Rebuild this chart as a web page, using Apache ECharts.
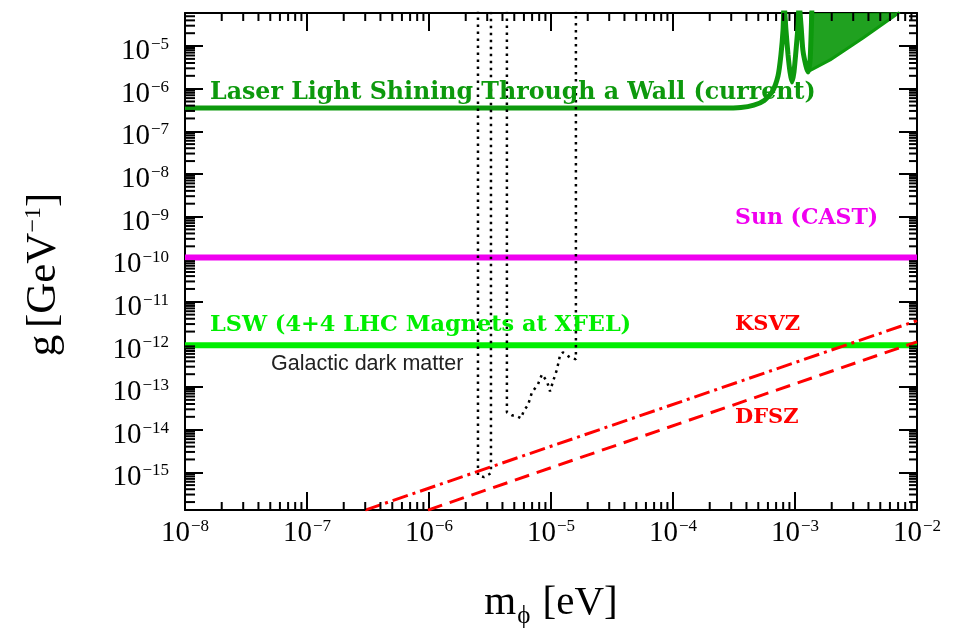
<!DOCTYPE html>
<html>
<head>
<meta charset="utf-8">
<script src="https://cdn.jsdelivr.net/npm/echarts@6/dist/echarts.min.js"></script>
<style>
  html, body { margin: 0; padding: 0; background: #fff; }
  #chart { width: 961px; height: 633px; }
</style>
</head>
<body>
<div id="chart"></div>
<script>
// x: mass m (eV), y: coupling g (GeV^-1), both drawn on log10 scales
const xTickExps = [-8, -7, -6, -5, -4, -3, -2];
const yTickExps = [-15, -14, -13, -12, -11, -10, -9, -8, -7, -6, -5];
const minorSteps = [2, 3, 4, 5, 6, 7, 8, 9];

// laser light shining through a wall (current), flat part + first resonances
const lswMass = [1e-8, 2.5e-4, 3.6e-4, 4.6e-4, 5.6e-4, 6.5e-4, 7.26e-4, 7.67e-4, 7.98e-4, 8.13e-4,
  8.43e-4, 8.77e-4, 9.10e-4, 9.44e-4, 9.81e-4, 1.02e-3, 1.06e-3, 1.08e-3, 1.12e-3,
  1.16e-3, 1.23e-3, 1.28e-3, 1.33e-3, 1.38e-3];
const lswG = [3.5e-7, 3.5e-7, 3.6e-7, 4.1e-7, 5.3e-7, 8.4e-7, 2.0e-6, 6.2e-6, 2.38e-5, 1e-4,
  2.38e-5, 6.2e-6, 2.47e-6, 1.44e-6, 2.47e-6, 8.1e-6, 3.12e-5, 1e-4, 3.12e-5,
  8.1e-6, 3.42e-6, 2.47e-6, 4.72e-6, 1e-4];
// dense oscillations: lower edge, filled up to the top of the plot
const lswBandMass = [1.31e-3, 1.94e-3, 3.61e-3, 7.2e-3];
const lswBandG = [2.6e-6, 4.72e-6, 1.55e-5, 6.2e-5];

const castMass = [1e-8, 1e-2];
const castG = [1.09e-10, 1.09e-10];

const xfelMass = [1e-8, 1e-2];
const xfelG = [9.5e-13, 9.5e-13];

const ksvzMass = [3.0e-7, 1e-2];
const ksvzG = [1.3e-16, 3.6e-12];
const dfszMass = [9.8e-7, 1e-2];
const dfszG = [1.3e-16, 1.15e-12];

// galactic dark matter searches (dotted contour)
const dmMass = [2.52e-6, 2.52e-6, 2.83e-6, 3.22e-6, 3.22e-6, 4.35e-6, 4.35e-6, 4.35e-6, 4.79e-6,
  5.26e-6, 5.68e-6, 6.01e-6, 6.47e-6, 6.98e-6, 7.82e-6, 8.43e-6, 9.27e-6, 9.82e-6,
  1.04e-5, 1.12e-5, 1.19e-5, 1.25e-5, 1.43e-5, 1.60e-5, 1.60e-5];
const dmG = [1e-4, 8.55e-16, 7.7e-16, 9.5e-16, 1e-4, 1e-4, 3.94e-14, 2.55e-14, 2.17e-14,
  2.06e-14, 1.85e-14, 2.85e-14, 3.73e-14, 7.5e-14, 1.16e-13, 1.98e-13, 1.36e-13, 7.9e-14,
  1.36e-13, 2.6e-13, 5.83e-13, 6.5e-13, 4.96e-13, 4.46e-13, 1e-4];

const yMin = -15.885, yMax = -4.225;
const serif = '"Liberation Serif", "DejaVu Serif", serif';
const labelFont = '"DejaVu Serif", serif';

function pts(ms, gs) {
  return ms.map((m, i) => [Math.log10(m), Math.log10(gs[i])]);
}

function expLabel(list) {
  return function (v) {
    const n = Math.round(v);
    if (Math.abs(v - n) > 1e-6 || list.indexOf(n) < 0) return '';
    return '{b|10}{s|\u2212' + Math.abs(n) + '}';
  };
}

const tickRich = {
  b: { fontFamily: serif, fontSize: 29, color: '#000', verticalAlign: 'bottom' },
  s: { fontFamily: serif, fontSize: 17, color: '#000', verticalAlign: 'bottom', padding: [0, 0, 13, 1] }
};

const minorX = [], minorY = [];
xTickExps.slice(0, -1).forEach(n => minorSteps.forEach(k => minorX.push([n + Math.log10(k), yMin])));
[-16].concat(yTickExps).forEach(n => minorSteps.forEach(k => {
  const v = n + Math.log10(k);
  if (v > yMin && v < yMax) minorY.push([-8, v]);
}));

function minorTicks(data, dir) {
  return {
    type: 'custom', silent: true, clip: false, z: 6,
    xAxisIndex: 0, yAxisIndex: 0,
    data: data,
    renderItem: function (params, api) {
      const cs = params.coordSys;
      const p = api.coord([api.value(0), api.value(1)]);
      const st = { stroke: '#000', lineWidth: 2 };
      const len = 8;
      if (dir === 'x') {
        return { type: 'group', children: [
          { type: 'line', shape: { x1: p[0], y1: cs.y + cs.height, x2: p[0], y2: cs.y + cs.height - len }, style: st },
          { type: 'line', shape: { x1: p[0], y1: cs.y, x2: p[0], y2: cs.y + len }, style: st }
        ] };
      }
      return { type: 'group', children: [
        { type: 'line', shape: { x1: cs.x, y1: p[1], x2: cs.x + len + 2, y2: p[1] }, style: st },
        { type: 'line', shape: { x1: cs.x + cs.width, y1: p[1], x2: cs.x + cs.width - len, y2: p[1] }, style: st }
      ] };
    }
  };
}

const frameLine = { show: true, onZero: false, lineStyle: { color: '#000', width: 2 } };
const majorTick = { show: true, inside: true, length: 18, lineStyle: { color: '#000', width: 2 } };

const chart = echarts.init(document.getElementById('chart'));
chart.setOption({
  animation: false,
  backgroundColor: '#fff',
  grid: { left: 185, right: 44, top: 13, bottom: 123, containLabel: false, outerBoundsMode: 'none' },
  xAxis: [
    {
      type: 'value', min: -8, max: -2, interval: 1, position: 'bottom',
      axisLine: frameLine, axisTick: majorTick, splitLine: { show: false },
      axisLabel: { margin: 8, formatter: expLabel(xTickExps), rich: tickRich },
      name: '{m|m}{p|\u03d5}{m| [eV]}', nameLocation: 'middle', nameGap: 73,
      nameTextStyle: { rich: {
        m: { fontFamily: serif, fontSize: 41, color: '#000', verticalAlign: 'bottom', padding: [0, 0, 5, 0] },
        p: { fontFamily: serif, fontSize: 25, color: '#000', verticalAlign: 'bottom', padding: [0, 2, 0, 1] }
      } }
    },
    {
      type: 'value', min: -8, max: -2, interval: 1, position: 'top',
      axisLine: frameLine, axisTick: majorTick, splitLine: { show: false },
      axisLabel: { show: false }
    }
  ],
  yAxis: [
    {
      type: 'value', min: yMin, max: yMax, minInterval: 1, maxInterval: 1, splitNumber: 11,
      position: 'left',
      axisLine: frameLine, axisTick: majorTick, splitLine: { show: false },
      axisLabel: { margin: 16, showMinLabel: false, showMaxLabel: false, padding: [10, 0, 0, 0],
        formatter: expLabel(yTickExps), rich: tickRich },
      name: '{a|g}  {a|[GeV}{s|\u22121}{a|]}', nameLocation: 'middle', nameRotate: 90, nameGap: 120,
      nameTextStyle: { padding: [0, 26, 0, 0], rich: {
        a: { fontFamily: serif, fontSize: 43, color: '#000', verticalAlign: 'bottom' },
        s: { fontFamily: serif, fontSize: 24, color: '#000', verticalAlign: 'bottom', padding: [0, 0, 19, 0] }
      } }
    },
    {
      type: 'value', min: yMin, max: yMax, minInterval: 1, maxInterval: 1, splitNumber: 11,
      position: 'right',
      axisLine: frameLine, axisTick: majorTick, splitLine: { show: false },
      axisLabel: { show: false }
    }
  ],
  series: [
    {
      name: 'LSW (current)', type: 'line', data: pts(lswMass, lswG), symbol: 'none', smooth: 0.2,
      lineStyle: { color: '#0d990d', width: 5 }, z: 3
    },
    {
      name: 'LSW band', type: 'line', data: pts(lswBandMass, lswBandG), symbol: 'none',
      lineStyle: { color: '#0d990d', width: 3 },
      areaStyle: { origin: 'end', color: '#0d990d', opacity: 0.92 }, z: 3
    },
    {
      name: 'Sun (CAST)', type: 'line', data: pts(castMass, castG), symbol: 'none',
      lineStyle: { color: '#f000f0', width: 6 }, z: 3
    },
    {
      name: 'LSW XFEL', type: 'line', data: pts(xfelMass, xfelG), symbol: 'none',
      lineStyle: { color: '#00ee00', width: 6 }, z: 3
    },
    {
      name: 'Galactic dark matter', type: 'line', data: pts(dmMass, dmG), symbol: 'none',
      lineStyle: { color: '#000', width: 2.5, type: [2.5, 4.5] }, z: 4
    },
    {
      name: 'KSVZ', type: 'line', data: pts(ksvzMass, ksvzG), symbol: 'none',
      lineStyle: { color: '#ff0000', width: 3, type: [16, 5, 3, 5] }, z: 5
    },
    {
      name: 'DFSZ', type: 'line', data: pts(dfszMass, dfszG), symbol: 'none',
      lineStyle: { color: '#ff0000', width: 3, type: [15, 8] }, z: 5
    },
    minorTicks(minorX, 'x'),
    minorTicks(minorY, 'y')
  ],
  graphic: [
    { type: 'text', x: 210, y: 93, z: 50, style: { text: 'Laser Light Shining Through a Wall (current)',
      font: 'bold 23.7px ' + labelFont, fill: '#0d990d', align: 'left', verticalAlign: 'middle' } },
    { type: 'text', x: 735, y: 218, z: 50, style: { text: 'Sun (CAST)',
      font: 'bold 22px ' + labelFont, fill: '#f000f0', align: 'left', verticalAlign: 'middle' } },
    { type: 'text', x: 210, y: 325, z: 50, style: { text: 'LSW (4+4 LHC Magnets at XFEL)',
      font: 'bold 22.4px ' + labelFont, fill: '#00ee00', align: 'left', verticalAlign: 'middle' } },
    { type: 'text', x: 735, y: 325, z: 50, style: { text: 'KSVZ',
      font: 'bold 21px ' + labelFont, fill: '#ff0000', align: 'left', verticalAlign: 'middle' } },
    { type: 'text', x: 735, y: 418, z: 50, style: { text: 'DFSZ',
      font: 'bold 21px ' + labelFont, fill: '#ff0000', align: 'left', verticalAlign: 'middle' } },
    { type: 'text', x: 271, y: 364, z: 50, style: { text: 'Galactic dark matter',
      font: '21.5px "Liberation Sans", Arial, sans-serif', fill: '#222', align: 'left', verticalAlign: 'middle' } }
  ]
});
</script>
</body>
</html>
